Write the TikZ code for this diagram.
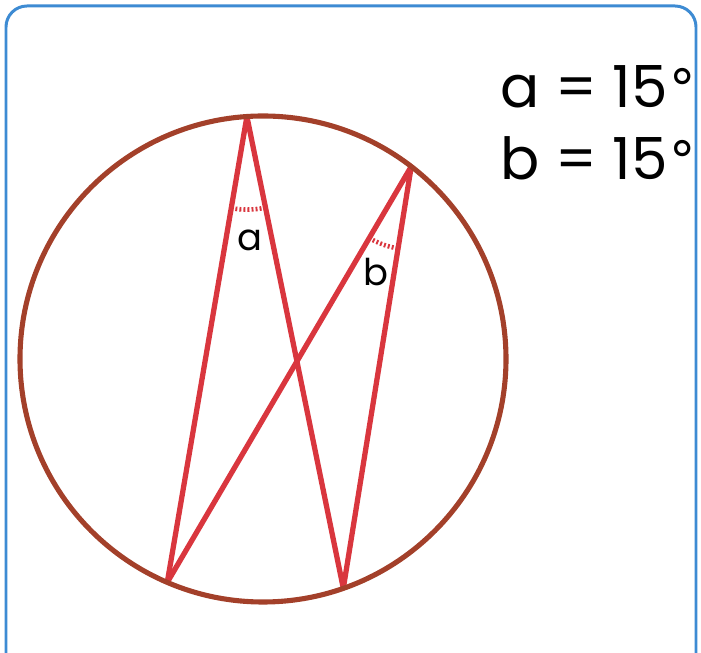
\documentclass[tikz,border=0pt]{standalone}
\usepackage{fontspec}
\setmainfont{Poppins}
\newfontfamily\ringfont{DejaVu Sans}
\definecolor{circlebrown}{HTML}{A3402A}
\definecolor{chordred}{HTML}{D9363E}
\definecolor{frameblue}{HTML}{3D8BD3}
\newcommand{\degsign}{\hspace{0.04em}{\ringfont\fontsize{30}{30}\selectfont °}}

\begin{document}
\begin{tikzpicture}
	\useasboundingbox (0,0) rectangle (14.02,-13.06);
	% frame, open at the bottom
	\draw[color=frameblue, line width=1.7pt, rounded corners=0.42cm] (0.12,-14) -- (0.12,-0.12) -- (13.92,-0.12) -- (13.92,-14);
	% circle
	\coordinate (O) at (5.26,-7.18);
	% points on the circle
	\path (O) ++(93.8:4.86) coordinate (A);
	\path (O) ++(52.4:4.86) coordinate (B);
	\path (O) ++(246.8:4.86) coordinate (C);
	\path (O) ++(289.3:4.86) coordinate (D);
	% chords, cut off at the circle
	\begin{scope}
		\clip (O) circle (4.9);
		\draw[color=chordred, line width=3pt, line join=miter] (C) -- (A) -- (D);
		\draw[color=chordred, line width=3pt, line join=miter] (C) -- (B) -- (D);
	\end{scope}
	\draw[color=circlebrown, line width=2.9pt] (O) circle (4.86);
	% angle marks
	\draw[color=chordred, line width=2.6pt, dash pattern=on 1.1pt off 1.2pt] (A) ++(260.4:1.86) arc (260.4:281.5:1.86);
	\draw[color=chordred, line width=2.6pt, dash pattern=on 1.1pt off 1.2pt] (B) ++(239.6:1.66) arc (239.6:261:1.66);
	\node[font=\fontsize{21}{25}\selectfont] (la) at (5.0,-4.8) {a};
	\node[font=\fontsize{21}{25}\selectfont] (lb) at (7.52,-5.44) {b};
	% values
	\node[anchor=base west, inner sep=0pt, font=\fontsize{33}{40}\selectfont] (vala) at (10.0,-2.16) {a = 15\degsign};
	\node[anchor=base west, inner sep=0pt, font=\fontsize{33}{40}\selectfont] (valb) at (10.0,-3.6) {b = 15\degsign};
\end{tikzpicture}
\end{document}
